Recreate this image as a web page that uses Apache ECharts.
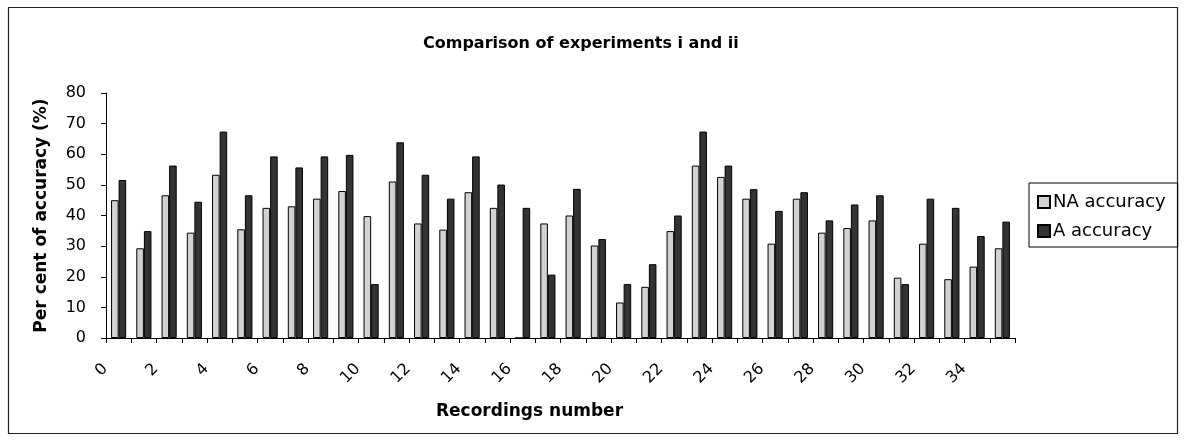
<!DOCTYPE html>
<html>
<head>
<meta charset="utf-8">
<style>
  html, body { margin: 0; padding: 0; background: #fff; }
  #chart { width: 1186px; height: 442px; }
</style>
<script src="https://cdn.jsdelivr.net/npm/echarts@6/dist/echarts.min.js"></script>
</head>
<body>
<div id="chart"></div>
<script>
const categories = ['0','1','2','3','4','5','6','7','8','9','10','11','12','13','14','15','16','17',
  '18','19','20','21','22','23','24','25','26','27','28','29','30','31','32','33','34','35'];
const naAccuracy = [45.0, 29.3, 46.6, 34.4, 53.3, 35.5, 42.5, 43.0, 45.5, 48.0, 39.8, 51.1,
  37.4, 35.4, 47.6, 42.5, 0, 37.4, 40.0, 30.2, 11.6, 16.7, 34.9, 56.3,
  52.6, 45.5, 30.8, 45.5, 34.4, 35.9, 38.4, 19.7, 30.8, 19.2, 23.3, 29.3];
const aAccuracy = [51.6, 34.9, 56.3, 44.5, 67.4, 46.6, 59.3, 55.7, 59.3, 59.8, 17.6, 63.9,
  53.3, 45.5, 59.3, 50.1, 42.5, 20.7, 48.7, 32.3, 17.6, 24.1, 40.0, 67.4,
  56.3, 48.6, 41.5, 47.6, 38.4, 43.6, 46.6, 17.6, 45.5, 42.5, 33.3, 38.0];
const seriesNames = ['NA accuracy', 'A accuracy'];
const yTicks = { min: 0, max: 80, step: 10 };
const titleText = 'Comparison of experiments i and ii';
const xTitle = 'Recordings number';
const yTitle = 'Per cent of accuracy (%)';

const FONT = 'DejaVu Sans';
const chart = echarts.init(document.getElementById('chart'), null, { renderer: 'canvas' });
chart.setOption({
  animation: false,
  backgroundColor: '#ffffff',
  graphic: [{
    type: 'rect',
    shape: { x: 8.5, y: 7.5, width: 1169, height: 426 },
    style: { fill: 'none', stroke: '#222', lineWidth: 1.2 },
    silent: true
  }],
  title: {
    text: titleText,
    left: 423,
    top: 36,
    padding: 0,
    textStyle: { fontFamily: FONT, fontWeight: 'bold', fontSize: 16, color: '#000' }
  },
  legend: {
    orient: 'vertical',
    left: 1029,
    top: 183,
    padding: [10, 12, 7, 8],
    itemGap: 11,
    itemWidth: 12,
    itemHeight: 12,
    icon: 'rect',
    borderColor: '#000',
    borderWidth: 1,
    textStyle: { fontFamily: FONT, fontSize: 18, color: '#000', padding: [0, 0, 0, -2] },
    data: seriesNames
  },
  grid: { left: 106, right: 171, top: 93, bottom: 104, containLabel: false },
  xAxis: {
    type: 'category',
    data: categories,
    boundaryGap: true,
    name: xTitle,
    nameLocation: 'middle',
    nameGap: 65,
    nameTextStyle: { fontFamily: FONT, fontWeight: 'bold', fontSize: 17, color: '#000', padding: [0, 62, 0, 0] },
    axisLine: { lineStyle: { color: '#000', width: 1 } },
    axisTick: { show: true, interval: 0, length: 5, lineStyle: { color: '#000' } },
    axisLabel: {
      interval: 1,
      rotate: 45,
      margin: 15,
      padding: [0, 19, 0, 0],
      fontFamily: FONT, fontSize: 16, color: '#000'
    },
    splitLine: { show: false }
  },
  yAxis: {
    type: 'value',
    min: yTicks.min,
    max: yTicks.max,
    interval: yTicks.step,
    name: yTitle,
    nameLocation: 'middle',
    nameRotate: 90,
    nameGap: 56,
    nameTextStyle: { fontFamily: FONT, fontWeight: 'bold', fontSize: 17, color: '#000' },
    axisLine: { show: true, lineStyle: { color: '#000', width: 1 } },
    axisTick: { show: true, length: 5, lineStyle: { color: '#000' } },
    axisLabel: { margin: 20, fontFamily: FONT, fontSize: 16, color: '#000' },
    splitLine: { show: false }
  },
  series: [
    {
      name: seriesNames[0],
      type: 'bar',
      data: naAccuracy,
      barGap: '0%',
      barCategoryGap: '40%',
      itemStyle: { color: '#d2d2d2', borderColor: '#000', borderWidth: 1 }
    },
    {
      name: seriesNames[1],
      type: 'bar',
      data: aAccuracy,
      barGap: '0%',
      barCategoryGap: '40%',
      itemStyle: { color: '#333333', borderColor: '#000', borderWidth: 1 }
    }
  ]
});
</script>
</body>
</html>
